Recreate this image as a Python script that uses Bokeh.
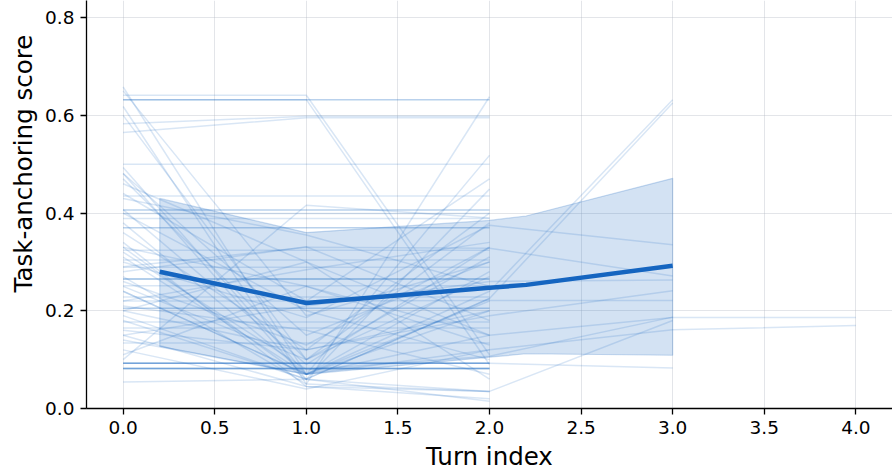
from bokeh.plotting import figure
from bokeh.models import FixedTicker, PrintfTickFormatter, Range1d, Title
from bokeh.embed import file_html
from bokeh.resources import INLINE

# ---- data ----
# conversations that last three turns (turn index 0, 1, 2)
turn0 = [0.632, 0.632, 0.500, 0.435, 0.406, 0.406, 0.399, 0.389, 0.370, 0.370,
         0.324, 0.304, 0.289, 0.265, 0.265, 0.265, 0.251, 0.228, 0.205, 0.205,
         0.177, 0.165, 0.134, 0.0925, 0.0925, 0.0925, 0.0925, 0.082, 0.082, 0.082,
         0.082, 0.082, 0.583, 0.565, 0.641, 0.632, 0.658, 0.650, 0.618, 0.600,
         0.493, 0.481, 0.481, 0.460, 0.430, 0.407, 0.400, 0.380, 0.360, 0.340,
         0.310, 0.280, 0.250, 0.240, 0.220, 0.210, 0.180, 0.160, 0.140, 0.110,
         0.054, 0.100, 0.200, 0.440, 0.260, 0.330, 0.470, 0.150]
turn1 = [0.632, 0.632, 0.500, 0.435, 0.406, 0.406, 0.399, 0.389, 0.370, 0.370,
         0.324, 0.304, 0.289, 0.265, 0.265, 0.265, 0.251, 0.228, 0.205, 0.205,
         0.177, 0.165, 0.134, 0.0925, 0.0925, 0.0925, 0.0925, 0.082, 0.082, 0.082,
         0.082, 0.082, 0.598, 0.595, 0.641, 0.632, 0.070, 0.190, 0.050, 0.100,
         0.070, 0.150, 0.060, 0.300, 0.355, 0.090, 0.200, 0.070, 0.120, 0.045,
         0.070, 0.331, 0.100, 0.070, 0.284, 0.160, 0.060, 0.120, 0.070, 0.250,
         0.060, 0.416, 0.300, 0.220, 0.130, 0.060, 0.100, 0.045]
turn2 = [0.632, 0.632, 0.500, 0.435, 0.406, 0.406, 0.399, 0.389, 0.370, 0.370,
         0.324, 0.304, 0.289, 0.265, 0.265, 0.265, 0.251, 0.228, 0.205, 0.205,
         0.177, 0.165, 0.134, 0.0925, 0.0925, 0.0925, 0.0925, 0.082, 0.082, 0.082,
         0.082, 0.082, 0.598, 0.595, 0.110, 0.090, 0.200, 0.300, 0.638, 0.380,
         0.518, 0.300, 0.449, 0.150, 0.250, 0.330, 0.100, 0.280, 0.400, 0.035,
         0.220, 0.180, 0.270, 0.120, 0.340, 0.070, 0.225, 0.200, 0.150, 0.130,
         0.035, 0.390, 0.060, 0.470, 0.330, 0.015, 0.310, 0.020]

# conversations that reach turn 3
long_t0 = [0.240, 0.190, 0.300, 0.0925, 0.270, 0.320, 0.220, 0.290, 0.150, 0.200]
long_t1 = [0.070, 0.060, 0.186, 0.0925, 0.050, 0.080, 0.220, 0.330, 0.210, 0.120]
long_t2 = [0.240, 0.225, 0.375, 0.0925, 0.035, 0.107, 0.221, 0.328, 0.260, 0.190]
long_t3 = [0.632, 0.625, 0.335, 0.083, 0.180, 0.187, 0.221, 0.271, 0.263, 0.241]

# conversations that reach turn 4
longest_t0 = [0.330, 0.120]
longest_t1 = [0.250, 0.040]
longest_t2 = [0.150, 0.120]
longest_t3 = [0.186, 0.161]
longest_t4 = [0.186, 0.170]

# mean trajectory and its band
mean_turn = [0.2, 1.0, 2.0, 2.2, 3.0]
mean_score = [0.280, 0.216, 0.247, 0.253, 0.292]
band_low = [0.127, 0.070, 0.105, 0.112, 0.109]
band_high = [0.430, 0.360, 0.385, 0.394, 0.471]

x_ticks = [0.0, 0.5, 1.0, 1.5, 2.0, 2.5, 3.0, 3.5, 4.0]
y_ticks = [0.0, 0.2, 0.4, 0.6, 0.8]

BLUE = "#1565c0"
FONT = "DejaVu Sans"

# ---- build trajectories ----
xs, ys = [], []
for a, b, c in zip(turn0, turn1, turn2):
    xs.append([0, 1, 2]); ys.append([a, b, c])
for a, b, c, d in zip(long_t0, long_t1, long_t2, long_t3):
    xs.append([0, 1, 2, 3]); ys.append([a, b, c, d])
for a, b, c, d, e in zip(longest_t0, longest_t1, longest_t2, longest_t3, longest_t4):
    xs.append([0, 1, 2, 3, 4]); ys.append([a, b, c, d, e])

p = figure(width=892, height=473, output_backend="svg", toolbar_location=None,
           x_range=Range1d(-0.2, 4.2), y_range=Range1d(0.0, 0.835),
           min_border_left=86, min_border_bottom=64, min_border_top=0, min_border_right=0)
p.outline_line_color = None
p.background_fill_color = "white"
p.border_fill_color = "white"

p.multi_line(xs, ys, line_color=BLUE, line_alpha=0.16, line_width=1.5)

band_x = mean_turn + mean_turn[::-1]
band_y = band_high + band_low[::-1]
p.patch(band_x, band_y, fill_color=BLUE, fill_alpha=0.19, line_color=BLUE, line_alpha=0.22, line_width=1.2)

p.line(mean_turn, mean_score, line_color=BLUE, line_width=4.5, line_join="round")

# axes
p.xaxis.ticker = FixedTicker(ticks=x_ticks)
p.yaxis.ticker = FixedTicker(ticks=y_ticks)
p.xaxis.formatter = PrintfTickFormatter(format="%.1f")
p.yaxis.formatter = PrintfTickFormatter(format="%.1f")
p.xaxis.axis_label = "Turn index"
for ax in (p.xaxis, p.yaxis):
    ax.axis_label_text_font = FONT
    ax.axis_label_text_font_style = "normal"
    ax.axis_label_text_font_size = "24.5px"
    ax.axis_label_text_color = "black"
    ax.major_label_text_font = FONT
    ax.major_label_text_font_size = "18.5px"
    ax.major_label_text_color = "black"
    ax.axis_line_color = "black"
    ax.axis_line_width = 1.3
    ax.major_tick_line_color = "black"
    ax.major_tick_line_width = 1.3
    ax.major_tick_out = 6
    ax.major_tick_in = 0
    ax.minor_tick_line_color = None
p.xaxis.major_label_standoff = 6
p.xaxis.axis_label_standoff = 5
p.yaxis.major_label_standoff = 6

# y-axis title, shifted upward as in the reference (its axes extend past the top of the picture)
ytitle = Title(text="Task-anchoring score", align="left", offset=116,
               text_font=FONT, text_font_size="24.5px", text_font_style="normal",
               text_color="black", standoff=10)
p.add_layout(ytitle, "left")

p.xgrid.ticker = FixedTicker(ticks=x_ticks)
p.ygrid.ticker = FixedTicker(ticks=y_ticks)
for g in (p.xgrid, p.ygrid):
    g.grid_line_color = "#b0b4c0"
    g.grid_line_alpha = 0.35
    g.grid_line_width = 1

open("out.html", "w").write(file_html(p, INLINE))
